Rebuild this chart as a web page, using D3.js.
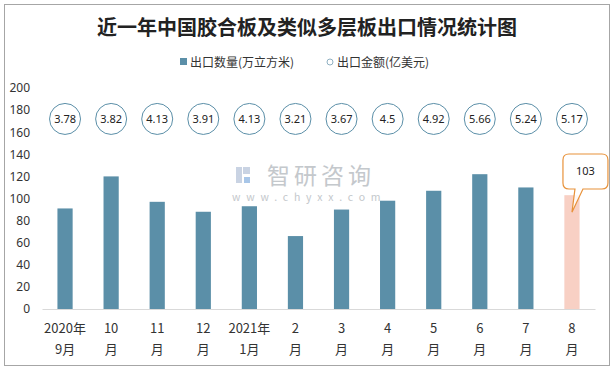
<!DOCTYPE html>
<html>
<head>
<meta charset="utf-8">
<script src="https://cdn.jsdelivr.net/npm/d3@7"></script>
<style>
  body { margin: 0; background: #fff; }
  text { font-family: "Noto Sans CJK SC", "Noto Sans", sans-serif; }
</style>
</head>
<body>
<div id="chart"></div>
<script>
// export volume and value of plywood, Sep 2020 - Aug 2021
const months = ['2020年|9月', '10|月', '11|月', '12|月', '2021年|1月', '2|月', '3|月', '4|月', '5|月', '6|月', '7|月', '8|月'];
const volume = [91, 120, 97, 88, 93, 66, 90, 98, 107, 122, 110, 103];
const amount = [3.78, 3.82, 4.13, 3.91, 4.13, 3.21, 3.67, 4.5, 4.92, 5.66, 5.24, 5.17];
const yTicks = [0, 20, 40, 60, 80, 100, 120, 140, 160, 180, 200];
const circleLevel = 172;   // height where the value circles sit

const W = 614, H = 370;
const margin = {top: 88, right: 19, bottom: 61, left: 42};
const width = W - margin.left - margin.right;
const height = H - margin.top - margin.bottom;

const svg = d3.select('#chart').append('svg')
    .attr('width', W)
    .attr('height', H);

// outer frame
svg.append('rect')
    .attr('x', 4.5).attr('y', 4.5)
    .attr('width', 605).attr('height', 361)
    .attr('fill', '#fff')
    .attr('stroke', '#a6a6a6');

// title
svg.append('text')
    .attr('x', 307).attr('y', 35)
    .attr('text-anchor', 'middle')
    .style('font-size', '20px')
    .style('font-weight', 700)
    .style('fill', '#222')
    .text('近一年中国胶合板及类似多层板出口情况统计图');

// legend
const legend = svg.append('g').style('font-size', '12px').style('fill', '#333');
legend.append('rect')
    .attr('x', 180).attr('y', 58).attr('width', 7).attr('height', 7)
    .attr('fill', '#5b8fa8');
legend.append('text').attr('x', 190).attr('y', 66.5).text('出口数量(万立方米)');
legend.append('circle')
    .attr('cx', 330).attr('cy', 62).attr('r', 3)
    .attr('fill', '#fff').attr('stroke', '#8fb0c2');
legend.append('text').attr('x', 337).attr('y', 66.5).text('出口金额(亿美元)');

// watermark
const wm = svg.append('g').style('fill', '#c4c8cc');
wm.append('rect').attr('x', 236).attr('y', 167).attr('width', 6).attr('height', 16).attr('fill', '#c9d3e3');
wm.append('rect').attr('x', 243).attr('y', 167).attr('width', 7).attr('height', 7).attr('fill', '#c9d3e3');
wm.append('rect').attr('x', 244).attr('y', 177).attr('width', 6).attr('height', 6).attr('fill', '#a8c6e8');
wm.append('text').attr('x', 267).attr('y', 184)
    .style('font-size', '23px').style('letter-spacing', '4px').text('智研咨询');
wm.append('text').attr('x', 232).attr('y', 201)
    .style('font-size', '10.5px').style('letter-spacing', '5.8px').text('www.chyxx.com');

const g = svg.append('g')
    .attr('transform', `translate(${margin.left}, ${margin.top})`);

// scales
const xScale = d3.scaleBand()
    .domain(months)
    .range([0, width])
    .paddingInner(0.67)
    .paddingOuter(0.335);

const yScale = d3.scaleLinear()
    .domain([0, 200])
    .range([height, 0]);

// y axis labels only
const yAxis = g.append('g')
    .call(d3.axisLeft(yScale).tickValues(yTicks).tickSize(0).tickPadding(12));
yAxis.select('.domain').remove();
yAxis.selectAll('text')
    .style('font-size', '12px')
    .style('fill', '#333')
    .style('font-family', '"Noto Sans", sans-serif');

// bars
g.selectAll('.bar')
    .data(volume)
    .enter()
    .append('rect')
    .attr('class', 'bar')
    .attr('x', (d, i) => xScale(months[i]))
    .attr('y', d => yScale(d))
    .attr('width', xScale.bandwidth())
    .attr('height', d => height - yScale(d))
    .attr('fill', (d, i) => i === volume.length - 1 ? '#f8d0c4' : '#5b8fa8');

// x axis
const xAxis = g.append('g')
    .attr('transform', `translate(0, ${height})`)
    .call(d3.axisBottom(xScale).tickSize(0).tickFormat(''));
xAxis.select('.domain').attr('stroke', '#d9d9d9');

xAxis.selectAll('.tick').each(function(d) {
    const parts = d.split('|');
    const t = d3.select(this).append('text')
        .attr('fill', '#333')
        .attr('text-anchor', 'middle')
        .style('font-size', '13px');
    t.append('tspan').attr('x', 0).attr('y', 24).text(parts[0]);
    t.append('tspan').attr('x', 0).attr('y', 45).text(parts[1]);
});

// value circles
const circ = g.selectAll('.amt')
    .data(amount)
    .enter()
    .append('g')
    .attr('class', 'amt')
    .attr('transform', (d, i) => `translate(${xScale(months[i]) + xScale.bandwidth() / 2}, ${yScale(circleLevel)})`);
circ.append('circle')
    .attr('r', 15.5)
    .attr('fill', '#fff')
    .attr('stroke', '#5b8fa8')
    .attr('stroke-width', 1);
circ.append('text')
    .attr('text-anchor', 'middle')
    .attr('dy', '0.35em')
    .style('font-size', '11px')
    .style('fill', '#222')
    .style('font-family', '"Noto Sans", sans-serif')
    .text(d => d);

// callout on the last bar
const lastI = volume.length - 1;
const cx = xScale(months[lastI]) + xScale.bandwidth() / 2 + margin.left;
const tipY = yScale(volume[lastI]) + margin.top + 17;
const bx = cx - 9, by = 154, bw = 45, bh = 35, r = 6;
const callout = d3.path();
callout.moveTo(bx + r, by);
callout.lineTo(bx + bw - r, by);
callout.quadraticCurveTo(bx + bw, by, bx + bw, by + r);
callout.lineTo(bx + bw, by + bh - r);
callout.quadraticCurveTo(bx + bw, by + bh, bx + bw - r, by + bh);
callout.lineTo(bx + 20, by + bh);
callout.lineTo(cx, tipY);
callout.lineTo(bx + 12, by + bh);
callout.lineTo(bx + r, by + bh);
callout.quadraticCurveTo(bx, by + bh, bx, by + bh - r);
callout.lineTo(bx, by + r);
callout.quadraticCurveTo(bx, by, bx + r, by);
callout.closePath();
svg.append('path')
    .attr('d', callout.toString())
    .attr('fill', '#fff')
    .attr('fill-opacity', 0.85)
    .attr('stroke', '#e8923a')
    .attr('stroke-width', 1.2);
svg.append('text')
    .attr('x', bx + bw / 2).attr('y', by + bh / 2)
    .attr('dy', '0.35em')
    .attr('text-anchor', 'middle')
    .style('font-size', '11px')
    .style('fill', '#222')
    .style('font-family', '"Noto Sans", sans-serif')
    .text(volume[lastI]);
</script>
</body>
</html>
